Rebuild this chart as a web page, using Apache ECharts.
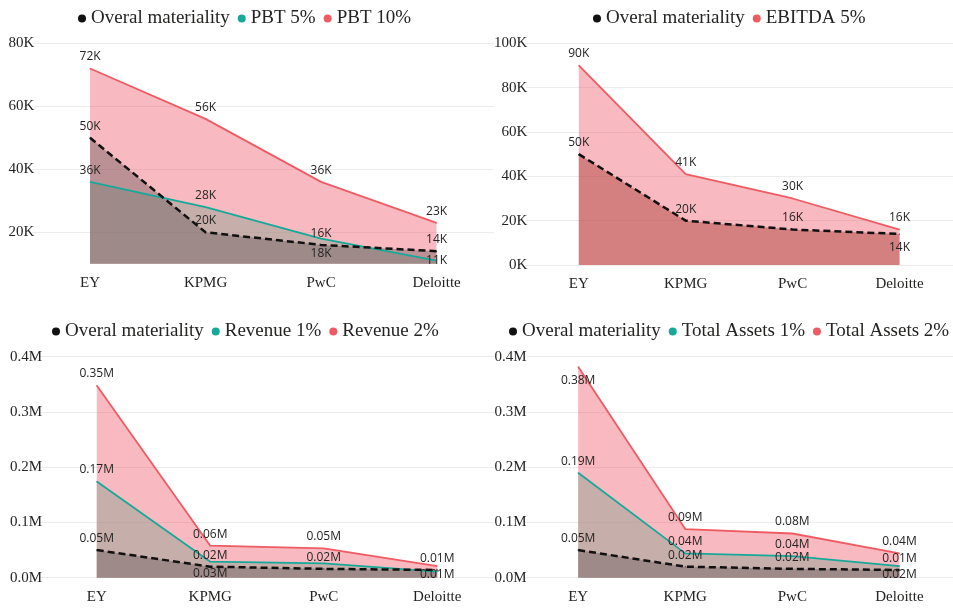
<!DOCTYPE html>
<html>
<head>
<meta charset="utf-8">
<script src="https://cdn.jsdelivr.net/npm/echarts@6/dist/echarts.min.js"></script>
<style>
html,body{margin:0;padding:0;background:#fff;}
#chart{width:953px;height:608px;}
</style>
</head>
<body>
<div id="chart"></div>
<script>
// ---- data ----
const categories = ['EY', 'KPMG', 'PwC', 'Deloitte'];
const overallMateriality = [50000, 20000, 16000, 14000];
const pbt5 = [36000, 28000, 18000, 11000];
const pbt10 = [72000, 56000, 36000, 23000];
const ebitda5 = [90000, 41000, 30000, 16000];
const revenue1 = [174000, 29000, 26000, 11000];
const revenue2 = [348000, 58000, 53000, 21000];
const totalAssets1 = [190000, 44000, 39000, 21000];
const totalAssets2 = [382000, 88000, 80000, 44000];
const yTicksK1 = [20000, 40000, 60000, 80000];
const yTicksK2 = [0, 20000, 40000, 60000, 80000, 100000];
const yTicksM = [0, 100000, 200000, 300000, 400000];

// ---- styles ----
const RED = '#ef5b63', TEAL = '#16a99a', BLACK = '#111111';
const RED_FILL = 'rgba(238,80,98,0.4)';
const TEAL_FILL = 'rgba(148,163,148,0.5)';
const BLACK_FILL = 'rgba(98,84,85,0.4)';
const BLACK_FILL2 = 'rgba(176,69,64,0.5)';
const SERIF = "'Liberation Serif','Times New Roman',serif";
const SANS = "'Open Sans','DejaVu Sans',sans-serif";
const TXT = '#252423';

const kFmt = v => Math.round(v / 1000) + 'K';
const mFmt = v => (v / 1e6).toFixed(2) + 'M';

function mkSeries(name, vals, gi, color, fill, fmt, overrides, dashed) {
  return {
    name: name, type: 'line', xAxisIndex: gi, yAxisIndex: gi,
    symbol: 'circle', symbolSize: 1, showSymbol: true,
    itemStyle: { color: color },
    lineStyle: { color: color, width: dashed ? 2.5 : 1.8, type: dashed ? [7, 4] : 'solid' },
    areaStyle: { color: fill, opacity: 1, origin: 'start' },
    label: {
      show: true, position: 'top', distance: 5, fontSize: 12, fontFamily: SANS, color: TXT,
      formatter: p => fmt(p.value)
    },
    emphasis: { disabled: true },
    animation: false,
    data: vals.map((v, i) => (overrides && overrides[i]) ? { value: v, label: overrides[i] } : v)
  };
}

function mkGrid(left, right, top, bottom) {
  return { left: left, right: right, top: top, bottom: bottom, containLabel: false };
}
function mkX(gi) {
  return {
    type: 'category', gridIndex: gi, data: categories, boundaryGap: true,
    axisLine: { show: false }, axisTick: { show: false },
    axisLabel: { fontFamily: SERIF, fontSize: 15, color: TXT, margin: 12, interval: 0 }
  };
}
function mkY(gi, min, max, interval, fmt, lineColors, ticks) {
  return {
    type: 'value', gridIndex: gi, min: min, max: max, interval: interval,
    axisLine: { show: false }, axisTick: { show: false },
    axisLabel: {
      fontFamily: SERIF, fontSize: 15, color: TXT, margin: -2,
      formatter: v => ticks.indexOf(v) >= 0 ? fmt(v) : ''
    },
    splitLine: { show: true, lineStyle: { color: lineColors, width: 1 } }
  };
}
const GL = '#ececec';
const legendBase = {
  icon: 'circle', itemWidth: 8, itemHeight: 8, itemGap: 8,
  textStyle: { fontFamily: SERIF, fontSize: 19, color: TXT },
  selectedMode: false, padding: 0
};

const option = {
  backgroundColor: '#ffffff',
  animation: false,
  legend: [
    Object.assign({}, legendBase, { left: 78, top: 9, data: ['Overal materiality', 'PBT 5%', 'PBT 10%'] }),
    Object.assign({}, legendBase, { left: 593, top: 9, data: ['Overal materiality', 'EBITDA 5%'] }),
    Object.assign({}, legendBase, { left: 52, top: 322, data: ['Overal materiality', 'Revenue 1%', 'Revenue 2%'] }),
    Object.assign({}, legendBase, { left: 509, top: 322, data: ['Overal materiality', 'Total Assets 1%', 'Total Assets 2%'] })
  ],
  grid: [
    mkGrid(32.3, 458.7, 43.3, 344.2),
    mkGrid(525.3, -25.6, 43.3, 343),
    mkGrid(40, 459, 356.7, 30.3),
    mkGrid(524.6, -25.6, 356.7, 30.3)
  ],
  xAxis: [mkX(0), mkX(1), mkX(2), mkX(3)],
  yAxis: [
    mkY(0, 10000, 80000, 10000, kFmt, ['rgba(0,0,0,0)', GL], yTicksK1),
    mkY(1, 0, 100000, 20000, kFmt, [GL], yTicksK2),
    mkY(2, 0, 400000, 100000, v => (v / 1e6).toFixed(1) + 'M', [GL], yTicksM),
    mkY(3, 0, 400000, 100000, v => (v / 1e6).toFixed(1) + 'M', [GL], yTicksM)
  ],
  series: [
    // panel 1
    mkSeries('PBT 10%', pbt10, 0, RED, RED_FILL, kFmt, null, false),
    mkSeries('PBT 5%', pbt5, 0, TEAL, TEAL_FILL, kFmt,
      [null, null, { position: 'bottom', distance: 8 }, { position: 'inside' }], false),
    mkSeries('Overal materiality', overallMateriality, 0, BLACK, BLACK_FILL, kFmt, null, true),
    // panel 2
    mkSeries('EBITDA 5%', ebitda5, 1, RED, RED_FILL, kFmt, null, false),
    mkSeries('Overal materiality', overallMateriality, 1, BLACK, BLACK_FILL2, kFmt,
      [null, null, null, { position: 'bottom', distance: 7 }], true),
    // panel 3
    mkSeries('Revenue 2%', revenue2, 2, RED, RED_FILL, mFmt, [null, null, null, { show: false }], false),
    mkSeries('Revenue 1%', revenue1, 2, TEAL, TEAL_FILL, mFmt,
      [null, { position: 'bottom', distance: 5 }, { show: false }, { position: 'inside', offset: [0, 3] }], false),
    mkSeries('Overal materiality', overallMateriality, 2, BLACK, BLACK_FILL, mFmt, null, true),
    // panel 4
    mkSeries('Total Assets 2%', totalAssets2, 3, RED, RED_FILL, mFmt, [{ position: 'bottom', distance: 7 }, null, null, null], false),
    mkSeries('Total Assets 1%', totalAssets1, 3, TEAL, TEAL_FILL, mFmt,
      [null, null, null, { position: 'bottom', distance: 2 }], false),
    mkSeries('Overal materiality', overallMateriality, 3, BLACK, BLACK_FILL, mFmt, null, true)
  ]
};

const chart = echarts.init(document.getElementById('chart'), null, { renderer: 'canvas' });
chart.setOption(option);
</script>
</body>
</html>
